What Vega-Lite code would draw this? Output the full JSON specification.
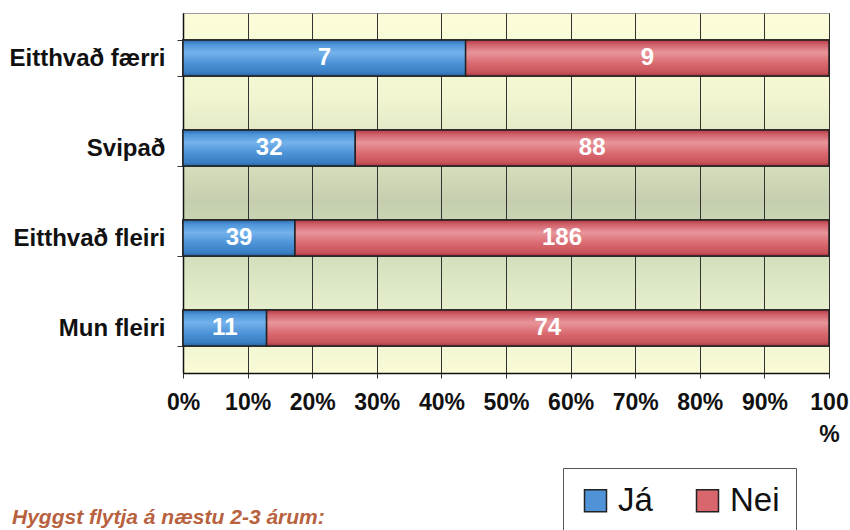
{
  "$schema": "https://vega.github.io/schema/vega-lite/v6.json",
  "width": 646,
  "height": 360,
  "autosize": "none",
  "padding": {"left": 183, "top": 13, "right": 21, "bottom": 157},
  "background": "white",
  "config": {
    "font": "Liberation Sans",
    "view": {
      "stroke": "#9a9a9a",
      "strokeWidth": 1,
      "fill": {
        "gradient": "linear",
        "x1": 0, "y1": 0, "x2": 0, "y2": 1,
        "stops": [
          {"offset": 0, "color": "#FCFCD9"},
          {"offset": 0.22, "color": "#F3F6D1"},
          {"offset": 0.4, "color": "#D8E1BF"},
          {"offset": 0.52, "color": "#C5CFAF"},
          {"offset": 0.65, "color": "#CFDBB9"},
          {"offset": 0.8, "color": "#E3EDCC"},
          {"offset": 1, "color": "#FBFBD6"}
        ]
      }
    }
  },
  "title": {
    "text": "Hyggst flytja á næstu 2-3 árum:",
    "orient": "bottom",
    "anchor": "start",
    "frame": "group",
    "dx": -171,
    "offset": -28,
    "fontSize": 21,
    "fontStyle": "italic",
    "fontWeight": "bold",
    "color": "#B8613E"
  },
  "data": {
    "values": [
      {"cat": "Eitthvað færri", "answer": "Já", "n": 7},
      {"cat": "Eitthvað færri", "answer": "Nei", "n": 9},
      {"cat": "Svipað", "answer": "Já", "n": 32},
      {"cat": "Svipað", "answer": "Nei", "n": 88},
      {"cat": "Eitthvað fleiri", "answer": "Já", "n": 39},
      {"cat": "Eitthvað fleiri", "answer": "Nei", "n": 186},
      {"cat": "Mun fleiri", "answer": "Já", "n": 11},
      {"cat": "Mun fleiri", "answer": "Nei", "n": 74}
    ]
  },
  "encoding": {
    "y": {
      "field": "cat",
      "type": "nominal",
      "sort": ["Eitthvað færri", "Svipað", "Eitthvað fleiri", "Mun fleiri"],
      "scale": {"paddingInner": 0.6, "paddingOuter": 0.3},
      "axis": {
        "title": null,
        "tickBand": "extent",
        "tickSize": 6,
        "tickColor": "#333",
        "domainColor": "#111",
        "domainWidth": 1.5,
        "labelFontSize": 24,
        "labelFontWeight": "bold",
        "labelColor": "#111",
        "labelPadding": 12
      }
    },
    "x": {
      "field": "n",
      "type": "quantitative",
      "stack": "normalize",
      "scale": {"domain": [0, 1]},
      "axis": {
        "title": null,
        "values": [0, 0.1, 0.2, 0.3, 0.4, 0.5, 0.6, 0.7, 0.8, 0.9, 1],
        "format": ".0%",
        "labelExpr": "datum.value == 1 ? ['100', '%'] : datum.label",
        "labelFlush": false,
        "labelOverlap": false,
        "grid": true,
        "gridColor": "#333",
        "gridWidth": 1,
        "tickSize": 5,
        "tickColor": "#333",
        "domainColor": "#111",
        "domainWidth": 1.5,
        "labelFontSize": 23,
        "labelFontWeight": "bold",
        "labelColor": "#111",
        "labelPadding": 13,
        "labelLineHeight": 32
      }
    },
    "order": {"field": "answer", "sort": "ascending"}
  },
  "layer": [
    {
      "mark": {"type": "bar", "stroke": "#222", "strokeWidth": 1.5},
      "encoding": {
        "color": {
          "field": "answer",
          "type": "nominal",
          "scale": {"domain": ["Já", "Nei"], "range": ["#4F93D6", "#D9666C"]},
          "legend": {
            "title": null,
            "orient": "none",
            "legendX": 380,
            "legendY": 455,
            "direction": "horizontal",
            "fillColor": "white",
            "strokeColor": "#555",
            "padding": 16,
            "symbolType": "square",
            "symbolSize": 484,
            "symbolStrokeColor": "#222",
            "symbolStrokeWidth": 1.5,
            "labelFontSize": 33,
            "labelColor": "#111",
            "labelOffset": 6,
            "columnPadding": 38
          }
        }
      }
    },
    {
      "mark": {"type": "bar", "stroke": "#222", "strokeWidth": 1.5},
      "encoding": {
        "detail": {"field": "answer"},
        "fill": {
          "condition": {
            "test": "datum.answer === 'Já'",
            "value": {
              "gradient": "linear", "x1": 0, "y1": 0, "x2": 0, "y2": 1,
              "stops": [
                {"offset": 0, "color": "#2C6AAE"},
                {"offset": 0.12, "color": "#4D94D8"},
                {"offset": 0.35, "color": "#74B2EC"},
                {"offset": 0.65, "color": "#4C92D6"},
                {"offset": 0.9, "color": "#3A7EC4"},
                {"offset": 1, "color": "#2A62A0"}
              ]
            }
          },
          "value": {
            "gradient": "linear", "x1": 0, "y1": 0, "x2": 0, "y2": 1,
            "stops": [
              {"offset": 0, "color": "#B23A43"},
              {"offset": 0.12, "color": "#D0606A"},
              {"offset": 0.35, "color": "#E8959A"},
              {"offset": 0.65, "color": "#D96A70"},
              {"offset": 0.9, "color": "#C9545B"},
              {"offset": 1, "color": "#A83540"}
            ]
          }
        }
      }
    },
    {
      "mark": {"type": "text", "color": "white", "fontSize": 24, "fontWeight": "bold"},
      "encoding": {
        "detail": {"field": "answer"},
        "x": {"field": "n", "type": "quantitative", "stack": "normalize", "bandPosition": 0.5},
        "text": {"field": "n", "type": "quantitative"}
      }
    }
  ]
}
